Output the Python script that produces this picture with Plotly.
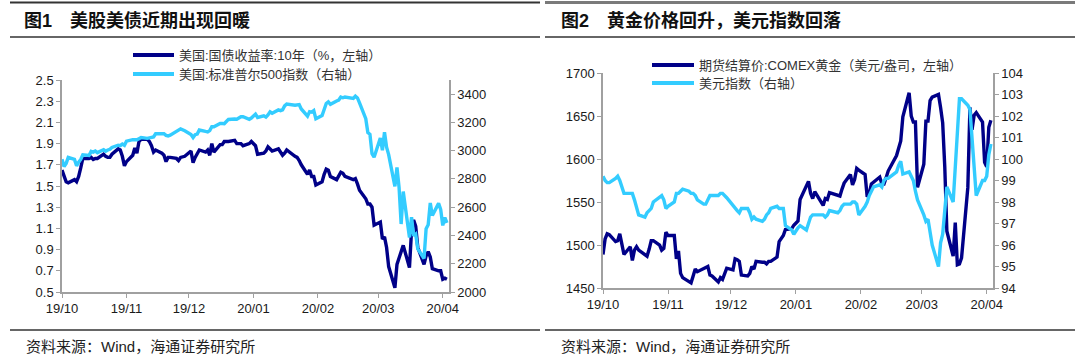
import plotly.graph_objects as go

# ---------------- data ----------------
dates = (
    ["2019-10-%02d" % d for d in [1, 2, 3, 4, 7, 8, 9, 10, 11, 14, 15, 16, 17, 18, 21, 22, 23, 24, 25, 28, 29, 30, 31]]
    + ["2019-11-%02d" % d for d in [1, 4, 5, 6, 7, 8, 11, 12, 13, 14, 15, 18, 19, 20, 21, 22, 25, 26, 27, 29]]
    + ["2019-12-%02d" % d for d in [2, 3, 4, 5, 6, 9, 10, 11, 12, 13, 16, 17, 18, 19, 20, 23, 24, 26, 27, 30, 31]]
    + ["2020-01-%02d" % d for d in [2, 3, 6, 7, 8, 9, 10, 13, 14, 15, 16, 17, 21, 22, 23, 24, 27, 28, 29, 30, 31]]
    + ["2020-02-%02d" % d for d in [3, 4, 5, 6, 7, 10, 11, 12, 13, 14, 18, 19, 20, 21, 24, 25, 26, 27, 28]]
    + ["2020-03-%02d" % d for d in [2, 3, 4, 5, 6, 9, 10, 11, 12, 13, 16, 17, 18, 19, 20, 23, 24, 25, 26, 27, 30, 31]]
    + ["2020-04-%02d" % d for d in [1, 2, 3]]
)

# US 10Y treasury yield (%), left axis of chart 1
ust10y = [
    1.65, 1.60, 1.54, 1.53, 1.56, 1.54, 1.59, 1.67, 1.76, 1.76, 1.77, 1.75, 1.76, 1.76, 1.80, 1.78, 1.77, 1.77, 1.80, 1.85, 1.84, 1.78, 1.69,
    1.73, 1.79, 1.86, 1.81, 1.92, 1.94, 1.94, 1.92, 1.88, 1.82, 1.84, 1.81, 1.79, 1.73, 1.77, 1.77, 1.76, 1.74, 1.77, 1.78,
    1.83, 1.72, 1.77, 1.80, 1.84, 1.82, 1.84, 1.79, 1.90, 1.82, 1.89, 1.89, 1.92, 1.92, 1.92, 1.93, 1.90, 1.90, 1.88, 1.90, 1.92,
    1.88, 1.80, 1.81, 1.83, 1.87, 1.85, 1.83, 1.85, 1.82, 1.79, 1.81, 1.84, 1.78, 1.77, 1.74, 1.70, 1.61, 1.65, 1.59, 1.59, 1.51,
    1.54, 1.61, 1.66, 1.65, 1.59, 1.56, 1.60, 1.63, 1.62, 1.59, 1.56, 1.57, 1.52, 1.46, 1.38, 1.33, 1.33, 1.30, 1.13,
    1.16, 1.00, 1.02, 0.92, 0.74, 0.54, 0.76, 0.82, 0.88, 0.94, 0.73, 1.08, 1.18, 1.12, 0.92, 0.76, 0.84, 0.88, 0.83, 0.72, 0.70, 0.70,
    0.62, 0.63, 0.62,
]

# S&P 500 index, right axis of chart 1
spx = [
    2940, 2888, 2910, 2952, 2938, 2893, 2919, 2938, 2970, 2966, 2995, 2990, 2998, 2986, 3007, 2996, 3005, 3010, 3023, 3039, 3036, 3047, 3038,
    3067, 3078, 3075, 3077, 3085, 3093, 3087, 3091, 3094, 3097, 3120, 3122, 3120, 3108, 3104, 3110, 3134, 3141, 3154, 3141,
    3114, 3093, 3113, 3117, 3146, 3136, 3133, 3142, 3169, 3169, 3192, 3192, 3191, 3206, 3221, 3224, 3223, 3240, 3240, 3222, 3231,
    3258, 3235, 3246, 3237, 3253, 3275, 3265, 3288, 3283, 3289, 3317, 3330, 3321, 3321, 3326, 3295, 3244, 3276, 3273, 3284, 3226,
    3249, 3297, 3334, 3345, 3328, 3352, 3358, 3379, 3374, 3380, 3370, 3386, 3373, 3338, 3226, 3128, 3116, 2979, 2954,
    3090, 3003, 3130, 3024, 2972, 2747, 2882, 2741, 2481, 2711, 2386, 2529, 2398, 2409, 2305, 2237, 2447, 2476, 2630, 2541, 2627, 2585,
    2471, 2527, 2489,
]

# COMEX gold futures settle (USD/oz), left axis of chart 2
gold = [
    1489, 1507, 1513, 1512, 1504, 1505, 1513, 1500, 1489, 1498, 1482, 1494, 1498, 1494, 1488, 1487, 1495, 1505, 1505, 1500, 1494, 1496, 1515,
    1511, 1511, 1484, 1493, 1467, 1462, 1457, 1456, 1464, 1472, 1469, 1472, 1474, 1475, 1465, 1464, 1457, 1462, 1460, 1473,
    1471, 1484, 1483, 1481, 1465, 1464, 1467, 1475, 1472, 1481, 1480, 1480, 1478, 1481, 1481, 1486, 1504, 1511, 1518, 1519, 1523,
    1528, 1553, 1568, 1574, 1560, 1554, 1562, 1550, 1546, 1554, 1553, 1561, 1558, 1557, 1565, 1572, 1582, 1570, 1576, 1589, 1587,
    1582, 1556, 1560, 1571, 1573, 1579, 1571, 1571, 1578, 1586, 1604, 1612, 1621, 1649, 1677, 1650, 1643, 1643, 1567,
    1594, 1644, 1644, 1668, 1672, 1675, 1660, 1642, 1591, 1516, 1487, 1526, 1477, 1478, 1485, 1567, 1660, 1634, 1651, 1654, 1643, 1596,
    1591, 1637, 1645,
]

# US dollar index, right axis of chart 2
dxy = [
    99.2, 99.0, 98.9, 98.9, 99.1, 99.2, 99.0, 98.7, 98.4, 98.4, 98.4, 98.1, 97.8, 97.4, 97.3, 97.5, 97.6, 97.7, 98.0, 98.2, 98.3, 98.1, 97.7,
    97.8, 98.0, 98.4, 98.4, 98.5, 98.6, 98.5, 98.4, 98.4, 98.3, 98.1, 97.9, 97.9, 98.1, 98.3, 98.3, 98.3, 98.4, 98.4, 98.2,
    97.8, 97.7, 97.6, 97.5, 97.7, 97.7, 97.5, 97.2, 97.3, 97.2, 97.1, 97.2, 97.4, 97.5, 97.7, 97.8, 97.7, 97.7, 96.9, 96.7, 96.5,
    96.8, 96.9, 96.7, 97.0, 97.3, 97.4, 97.4, 97.4, 97.4, 97.3, 97.4, 97.6, 97.5, 97.6, 97.8, 97.9, 97.9, 98.0, 98.0, 97.9, 97.4,
    97.8, 98.0, 98.3, 98.5, 98.7, 98.8, 98.7, 99.0, 99.1, 99.1, 99.4, 99.7, 99.9, 99.3, 99.4, 99.2, 99.0, 98.5, 98.1,
    97.4, 97.1, 97.2, 96.7, 96.0, 95.0, 96.1, 96.5, 97.5, 98.7, 98.0, 99.6, 101.2, 102.8, 102.8, 102.5, 102.3, 101.0, 99.4, 98.3, 99.0, 99.0,
    99.2, 100.2, 100.7,
]

month_ticks = ["2019-10-01", "2019-11-01", "2019-12-01", "2020-01-01", "2020-02-01", "2020-03-01", "2020-04-01"]
month_labels = ["19/10", "19/11", "19/12", "20/01", "20/02", "20/03", "20/04"]
x_range = ["2019-10-01", "2020-04-04"]

y1_ticks = [0.5, 0.7, 0.9, 1.1, 1.3, 1.5, 1.7, 1.9, 2.1, 2.3, 2.5]
y2_ticks = [2000, 2200, 2400, 2600, 2800, 3000, 3200, 3400]
y3_ticks = [1450, 1500, 1550, 1600, 1650, 1700]
y4_ticks = [94, 95, 96, 97, 98, 99, 100, 101, 102, 103, 104]

names = [
    "美国:国债收益率:10年（%，左轴）",
    "美国:标准普尔500指数（右轴）",
    "期货结算价:COMEX黄金（美元/盎司，左轴）",
    "美元指数（右轴）",
]
titles = ["图1　美股美债近期出现回暖", "图2　黄金价格回升，美元指数回落"]
source = "资料来源：Wind，海通证券研究所"

assert len(dates) == len(ust10y) == len(spx) == len(gold) == len(dxy)

# ---------------- styling ----------------
W, H = 1080, 358
DARK = "#000088"
LIGHT = "#33CCFF"
AX = "#A0A0A0"
FONT = "Liberation Sans, Arial, Noto Sans CJK SC, sans-serif"
CJK = "Liberation Sans, Noto Sans CJK SC, sans-serif"


def px(x):
    return x / W


def py(y):
    return 1 - y / H


fig = go.Figure()
fig.add_trace(go.Scatter(x=dates, y=ust10y, xaxis="x", yaxis="y", mode="lines",
                         line=dict(color=DARK, width=3.4), name=names[0], showlegend=False))
fig.add_trace(go.Scatter(x=dates, y=spx, xaxis="x", yaxis="y2", mode="lines",
                         line=dict(color=LIGHT, width=3.4), name=names[1], showlegend=False))
fig.add_trace(go.Scatter(x=dates, y=gold, xaxis="x2", yaxis="y3", mode="lines",
                         line=dict(color=DARK, width=3.4), name=names[2], showlegend=False))
fig.add_trace(go.Scatter(x=dates, y=dxy, xaxis="x2", yaxis="y4", mode="lines",
                         line=dict(color=LIGHT, width=3.4), name=names[3], showlegend=False))

tickfont = dict(family=FONT, size=13, color="#1a1a1a")
common_axis = dict(showgrid=False, zeroline=False, showline=True, linecolor=AX, linewidth=1.5,
                   ticks="outside", ticklen=4, tickcolor=AX, tickwidth=1.2, tickfont=tickfont,
                   automargin=False)

xa = dict(common_axis, type="date", range=x_range, tickvals=month_ticks, ticktext=month_labels)

fig.update_layout(
    width=W, height=H,
    margin=dict(l=0, r=0, t=0, b=0, autoexpand=False),
    paper_bgcolor="white", plot_bgcolor="white",
    xaxis=dict(xa, domain=[px(62), px(449)], anchor="y"),
    yaxis=dict(common_axis, domain=[py(292), py(80)], anchor="x", range=[0.5, 2.5],
               tickvals=y1_ticks, tickformat=".1f"),
    yaxis2=dict(common_axis, overlaying="y", side="right", anchor="x", range=[2000, 3500],
                tickvals=y2_ticks),
    xaxis2=dict(xa, domain=[px(603), px(993)], anchor="y3"),
    yaxis3=dict(common_axis, domain=[py(288), py(73)], anchor="x2", range=[1450, 1700],
                tickvals=y3_ticks),
    yaxis4=dict(common_axis, overlaying="y3", side="right", anchor="x2", range=[94, 104],
                tickvals=y4_ticks),
)

shapes = []
annotations = []

# frame lines: top, title underline, bottom
shapes.append(dict(type="line", xref="paper", yref="paper", x0=px(10), x1=px(540), y0=py(2.5), y1=py(2.5),
                   line=dict(color="#333333", width=2)))
shapes.append(dict(type="line", xref="paper", yref="paper", x0=px(545), x1=px(1075), y0=py(2.5), y1=py(2.5),
                   line=dict(color="#7a7a7a", width=3)))
for x0, x1 in [(10, 540), (545, 1075)]:
    shapes.append(dict(type="line", xref="paper", yref="paper", x0=px(x0), x1=px(x1), y0=py(37), y1=py(37),
                       line=dict(color="#333333", width=1.3)))
    shapes.append(dict(type="line", xref="paper", yref="paper", x0=px(x0), x1=px(x1), y0=py(330), y1=py(330),
                       line=dict(color="#333333", width=1.3)))

# titles and sources
for tx, t in zip([22, 559], titles):
    annotations.append(dict(x=px(tx), y=py(21), xref="paper", yref="paper", xanchor="left", yanchor="middle",
                            text="<b>%s</b>" % t, showarrow=False,
                            font=dict(family=CJK, size=18, color="#111111")))
for sx in [24, 559]:
    annotations.append(dict(x=px(sx), y=py(346), xref="paper", yref="paper", xanchor="left", yanchor="middle",
                            text=source, showarrow=False, font=dict(family=CJK, size=15, color="#222222")))

# legends
legend_items = [
    (133, 174, 55, DARK, names[0]),
    (133, 174, 74, LIGHT, names[1]),
    (652, 694, 65, DARK, names[2]),
    (652, 694, 83, LIGHT, names[3]),
]
for x0, x1, yy, col, txt in legend_items:
    shapes.append(dict(type="line", xref="paper", yref="paper", x0=px(x0), x1=px(x1), y0=py(yy), y1=py(yy),
                       line=dict(color=col, width=4)))
    annotations.append(dict(x=px(x1 + 3), y=py(yy), xref="paper", yref="paper", xanchor="left", yanchor="middle",
                            text=txt, showarrow=False, font=dict(family=CJK, size=13, color="#333333")))

fig.update_layout(shapes=shapes, annotations=annotations)
fig.write_html(
    "out.html",
    config={"displayModeBar": False},
    post_script="document.body.style.margin='0';document.body.style.overflow='hidden';",
)
